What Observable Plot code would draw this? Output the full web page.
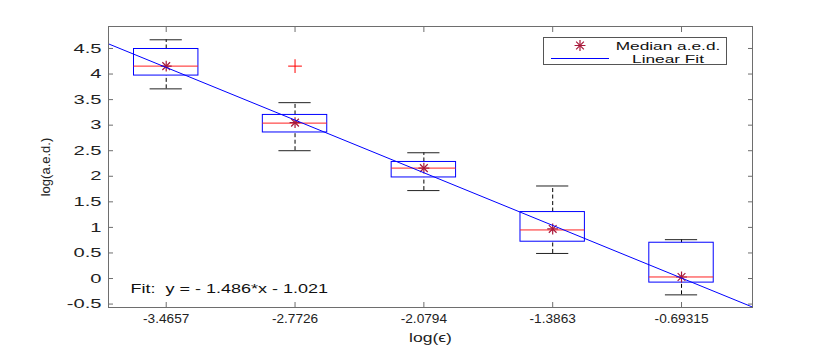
<!DOCTYPE html>
<html><head><meta charset="utf-8">
<script src="https://cdn.jsdelivr.net/npm/d3@7"></script>
<script src="https://cdn.jsdelivr.net/npm/@observablehq/plot@0.6"></script>
<style>
body{margin:0;background:#fff;}
#wrap{position:relative;width:830px;height:346px;font-family:"Liberation Sans",Arial,sans-serif;}
#wrap svg text{white-space:pre;}
</style></head><body><div id="wrap"></div>
<script>
// ---- data ----
const positions = [1, 2, 3, 4, 5];
const tickLabels = ["-3.4657", "-2.7726", "-2.0794", "-1.3863", "-0.69315"];
const logEps = [-3.4657, -2.7726, -2.0794, -1.3863, -0.69315];
const upperWhisker = [4.67, 3.44, 2.46, 1.81, 0.76];
const q3 = [4.49, 3.20, 2.28, 1.30, 0.70];
const medians = [4.155, 3.04, 2.16, 0.95, 0.03];
const q1 = [3.97, 2.857, 1.977, 0.72, -0.08];
const lowerWhisker = [3.71, 2.50, 1.72, 0.49, -0.32];
const medianAed = [4.155, 3.05, 2.16, 0.97, 0.03];
const outlierPos = [2];
const outlierVal = [4.155];
const fitSlope = -1.486, fitIntercept = -1.021;
const yTicks = [-0.5, 0, 0.5, 1, 1.5, 2, 2.5, 3, 3.5, 4, 4.5];
const legendLabels = ["Median a.e.d.", "Linear Fit"];

// ---- derived tables ----
const xDomain = [0.552, 5.551];
const yDomain = [-0.567, 4.93];
const boxes = positions.map((p, i) => ({p, hi: upperWhisker[i], q3: q3[i], med: medians[i], q1: q1[i], lo: lowerWhisker[i]}));
const stars = positions.map((p, i) => ({p, v: medianAed[i]}));
const outliers = outlierPos.map((p, i) => ({p, v: outlierVal[i]}));
const posToLog = d3.scaleLinear().domain([positions[0], positions[4]]).range([logEps[0], logEps[4]]);
const fitPts = xDomain.map(p => ({p, v: fitSlope * posToLog(p) + fitIntercept}));
const fitText = `Fit:  y = - ${Math.abs(fitSlope)}*x - ${Math.abs(fitIntercept)}`;

const BW = 0.25, CW = 0.125;
const starColor = "#a8183a";
const frameColor = "#6e6e6e";
const none = () => "";

const chart = Plot.plot({
  width: 830, height: 346,
  marginLeft: 108, marginRight: 78, marginTop: 26, marginBottom: 39,
  style: {fontFamily: '"Liberation Sans", Arial, sans-serif', fontSize: "12px", color: "#222", background: "#fff"},
  x: {domain: xDomain},
  y: {domain: yDomain},
  marks: [
    Plot.ruleX(boxes, {x: "p", y1: "q3", y2: "hi", stroke: "#000", strokeDasharray: "4,2.5"}),
    Plot.ruleX(boxes, {x: "p", y1: "lo", y2: "q1", stroke: "#000", strokeDasharray: "4,2.5"}),
    Plot.ruleY(boxes, {y: "hi", x1: d => d.p - CW, x2: d => d.p + CW, stroke: "#222"}),
    Plot.ruleY(boxes, {y: "lo", x1: d => d.p - CW, x2: d => d.p + CW, stroke: "#222"}),
    Plot.rect(boxes, {x1: d => d.p - BW, x2: d => d.p + BW, y1: "q1", y2: "q3", fill: "none", stroke: "#0000ff"}),
    Plot.ruleY(boxes, {y: "med", x1: d => d.p - BW, x2: d => d.p + BW, stroke: "#ff2020"}),
    Plot.dot(outliers, {x: "p", y: "v", symbol: "plus", r: 4.5, stroke: "#ff0000", strokeWidth: 1}),
    Plot.dot(stars, {x: "p", y: "v", symbol: "plus", r: 3.6, stroke: starColor, strokeWidth: 1.2}),
    Plot.dot(stars, {x: "p", y: "v", symbol: "times", r: 3.6, stroke: starColor, strokeWidth: 1.2}),
    Plot.line(fitPts, {x: "p", y: "v", stroke: "#0000ff", strokeWidth: 1, clip: true}),
    Plot.text([fitText], {frameAnchor: "bottom-left", dx: 22, dy: -15, text: d => d, textAnchor: "start", fontSize: 12, fill: "#111"}),
    Plot.frame({stroke: frameColor}),
    Plot.axisX({ticks: positions, tickFormat: (d, i) => tickLabels[i], tickSize: 0, tickPadding: 6, label: "log(ϵ)", labelAnchor: "center", labelArrow: "none", labelOffset: 34, fontSize: 13}),
    Plot.axisX({ticks: positions, tickSize: -5, tickFormat: none, label: null, stroke: frameColor}),
    Plot.axisX({anchor: "top", ticks: positions, tickSize: -5, tickFormat: none, label: null, stroke: frameColor}),
    Plot.axisY({ticks: yTicks, tickFormat: d => String(d), tickSize: 0, tickPadding: 7, label: "log(a.e.d.)", labelAnchor: "center", labelArrow: "none", labelOffset: 68, fontSize: 13}),
    Plot.axisY({ticks: yTicks, tickSize: -5, tickFormat: none, label: null, stroke: frameColor}),
    Plot.axisY({anchor: "right", ticks: yTicks, tickSize: -5, tickFormat: none, label: null, stroke: frameColor})
  ]
});
const wrap = document.getElementById("wrap");
wrap.appendChild(chart);

// legend (MATLAB-style box inside the axes)
const leg = d3.select(wrap).append("svg")
  .attr("width", 186).attr("height", 30)
  .style("position", "absolute").style("left", "542px").style("top", "36px")
  .style("font-family", '"Liberation Sans", Arial, sans-serif');
leg.append("rect").attr("x", 1.5).attr("y", 1.5).attr("width", 183).attr("height", 27).attr("fill", "#fff").attr("stroke", "#555");
const sg = leg.append("g").attr("transform", "translate(38,9.5)").attr("stroke", starColor).attr("stroke-width", 1.2);
sg.append("path").attr("d", d3.symbol(d3.symbolPlus, 3.6 * 3.6 * Math.PI)());
sg.append("path").attr("d", d3.symbol(d3.symbolTimes, 3.6 * 3.6 * Math.PI)());
leg.append("line").attr("x1", 9).attr("x2", 67).attr("y1", 22.5).attr("y2", 22.5).attr("stroke", "#0000ff");
leg.selectAll("text.lbl").data(legendLabels).join("text").attr("class", "lbl")
  .attr("x", 126).attr("y", (d, i) => 9.5 + i * 13.5).attr("dy", "0.35em")
  .attr("text-anchor", "middle").attr("font-size", 11.5).attr("fill", "#111").text(d => d);

// horizontal stretch of MATLAB-exported glyphs
function stretch(sel, f) {
  sel.each(function() {
    const L = this.getComputedTextLength();
    if (L > 0) { this.setAttribute("textLength", L * f); this.setAttribute("lengthAdjust", "spacingAndGlyphs"); }
  });
}
const svg = d3.select(chart);
stretch(svg.selectAll('g[aria-label="y-axis tick label"] text'), 1.55);
stretch(svg.selectAll('g[aria-label="x-axis tick label"] text'), 1.05);
stretch(svg.selectAll('g[aria-label="x-axis label"] text'), 1.35);
stretch(svg.selectAll('g[aria-label="text"] text'), 1.5);
stretch(leg.selectAll("text.lbl"), 1.5);
</script></body></html>
